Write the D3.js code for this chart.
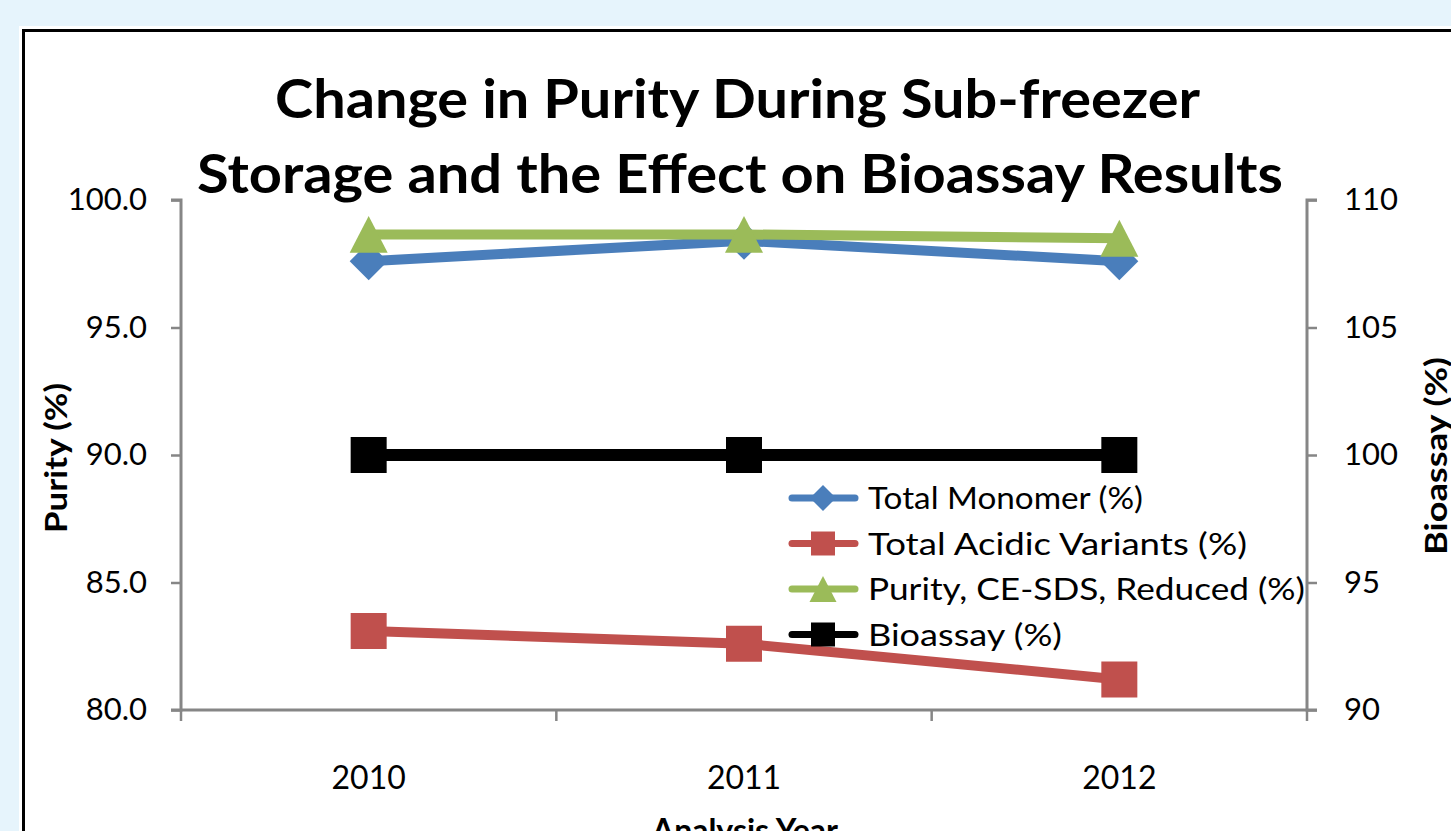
<!DOCTYPE html>
<html><head><meta charset="utf-8">
<script src="https://cdn.jsdelivr.net/npm/d3@7"></script>
<style>body{margin:0;background:#e6f4fc;overflow:hidden}svg{display:block}</style>
</head><body>
<svg id="c" width="1451" height="831"></svg>
<script>
const years = ["2010", "2011", "2012"];
const totalMonomer = [97.6, 98.4, 97.6];
const acidicVariants = [83.1, 82.6, 81.2];
const purityCESDS = [98.65, 98.65, 98.5];
const bioassay = [100, 100, 100];
const leftTicks = [80, 85, 90, 95, 100];
const rightTicks = [90, 95, 100, 105, 110];
const seriesNames = ["Total Monomer (%)", "Total Acidic Variants (%)", "Purity, CE-SDS, Reduced (%)", "Bioassay (%)"];
const titleLines = ["Change in Purity During Sub-freezer", "Storage and the Effect on Bioassay Results"];

const FONT = "Lato, 'Open Sans', sans-serif";
const svg = d3.select("#c");
svg.append("rect").attr("x",0).attr("y",0).attr("width",1451).attr("height",831).attr("fill","#e6f4fc");
svg.append("rect").attr("x",19).attr("y",26).attr("width",1500).attr("height",900).attr("fill","#fff");
svg.append("rect").attr("x",23.5).attr("y",30.5).attr("width",1500).attr("height",900)
  .attr("fill","#fff").attr("stroke","#000").attr("stroke-width",3);

const L = 181, R = 1307, T = 200, B = 710;
const x = d3.scaleBand().domain(years).range([L, R]);
const yL = d3.scaleLinear().domain([80, 100]).range([B, T]);
const yR = d3.scaleLinear().domain([90, 110]).range([B, T]);
const cx = d => x(d) + x.bandwidth()/2;

// custom symbols (bbox-centred)
const diamond = {draw(ctx, size){ const r = Math.sqrt(size)/2; ctx.moveTo(0,-r); ctx.lineTo(r,0); ctx.lineTo(0,r); ctx.lineTo(-r,0); ctx.closePath(); }};
const triangle = {draw(ctx, size){ const w = Math.sqrt(size), h = w*0.97; ctx.moveTo(0,-h/2); ctx.lineTo(w/2,h/2); ctx.lineTo(-w/2,h/2); ctx.closePath(); }};
const square = {draw(ctx, size){ const s = Math.sqrt(size)/2; ctx.rect(-s,-s,2*s,2*s); }};

// axes
const axisColor = "#868686";
const gL = svg.append("g").attr("transform",`translate(${L},0)`)
  .call(d3.axisLeft(yL).tickValues(leftTicks).tickFormat(d3.format(".1f")).tickSize(10).tickPadding(24));
const gR = svg.append("g").attr("transform",`translate(${R},0)`)
  .call(d3.axisRight(yR).tickValues(rightTicks).tickFormat(d3.format("d")).tickSize(10).tickPadding(27));
const gX = svg.append("g").attr("transform",`translate(0,${B})`)
  .call(d3.axisBottom(x).tickSize(0).tickPadding(56));
const bounds = years.map(d => x(d)).concat([R]);
svg.append("g").selectAll("line").data(bounds).join("line")
  .attr("x1",d=>d).attr("x2",d=>d).attr("y1",B).attr("y2",B+11)
  .attr("stroke",axisColor).attr("stroke-width",2.5);
[gL,gR,gX].forEach(g=>{
  g.selectAll(".domain").attr("stroke",axisColor).attr("stroke-width",3);
  g.selectAll(".tick line").attr("stroke",axisColor).attr("stroke-width",2.5);
  g.selectAll("text").attr("font-family",FONT).attr("font-size",31).attr("fill","#000");
});
gX.selectAll("text").attr("font-size",32);
gL.select(".domain").attr("d",`M-10,${T}H0V${B}H-10`);
gR.select(".domain").attr("d",`M10,${T}H0V${B}H10`);
gX.select(".domain").attr("d",`M${L},0H${R}`);

// series
const series = [
  {name: seriesNames[0], vals: totalMonomer, color:"#4a7ebb", sym: diamond, size: 38*38, lsize: 26*26, axis: yL},
  {name: seriesNames[1], vals: acidicVariants, color:"#c0504d", sym: square, size: 36*36, lsize: 24*24, axis: yL},
  {name: seriesNames[2], vals: purityCESDS, color:"#9bbb59", sym: triangle, size: 38*38, lsize: 27*27, axis: yL},
  {name: seriesNames[3], vals: bioassay, color:"#000000", sym: square, size: 36*36, lsize: 24*24, axis: yR}
];
const lineGen = d3.line();
const order = [1,3,0,2];
order.forEach(i=>{
  const s = series[i];
  const pts = years.map((yr,j)=>[cx(yr), s.axis(s.vals[j])]);
  svg.append("path").attr("d", lineGen(pts)).attr("fill","none")
    .attr("stroke", s.color).attr("stroke-width", i===3?12:10).attr("stroke-linejoin","round");
  svg.append("g").selectAll("path").data(pts).join("path")
    .attr("transform", p=>`translate(${p[0]},${p[1]})`)
    .attr("d", d3.symbol().type(s.sym).size(s.size)).attr("fill", s.color);
});

// legend
const legend = svg.append("g");
const legY0 = 498, legDy = 45.5;
const legWidths = [275, 379, 437, 194];
series.forEach((s,i)=>{
  const y = legY0 + i*legDy;
  legend.append("line").attr("x1",792).attr("x2",855).attr("y1",y).attr("y2",y)
    .attr("stroke",s.color).attr("stroke-width",7).attr("stroke-linecap","round");
  legend.append("path").attr("transform",`translate(823,${y})`)
    .attr("d", d3.symbol().type(s.sym).size(s.lsize)).attr("fill",s.color);
  legend.append("text").attr("x",868).attr("y",y).attr("dy","0.36em")
    .attr("font-family",FONT).attr("font-size",31).attr("fill","#000")
    .attr("textLength",legWidths[i]).attr("lengthAdjust","spacingAndGlyphs").text(s.name);
});

// title
const titleX = [275, 197], titleW = [925, 1086];
svg.append("g").selectAll("text").data(titleLines).join("text")
  .attr("x",(d,i)=>titleX[i]).attr("y",(d,i)=>118+i*75)
  .attr("textLength",(d,i)=>titleW[i]).attr("lengthAdjust","spacingAndGlyphs")
  .attr("font-family",FONT).attr("font-weight","bold").attr("font-size",53).attr("fill","#000").text(d=>d);

// axis titles
svg.append("text").attr("transform","translate(67,458) rotate(-90)").attr("text-anchor","middle")
  .attr("font-family",FONT).attr("font-weight","bold").attr("font-size",30)
  .attr("textLength",150).attr("lengthAdjust","spacingAndGlyphs").text("Purity (%)");
svg.append("text").attr("transform","translate(1447,456) rotate(-90)").attr("text-anchor","middle")
  .attr("font-family",FONT).attr("font-weight","bold").attr("font-size",30)
  .attr("textLength",198).attr("lengthAdjust","spacingAndGlyphs").text("Bioassay (%)");
svg.append("text").attr("x",745).attr("y",842).attr("text-anchor","middle")
  .attr("font-family",FONT).attr("font-weight","bold").attr("font-size",32).text("Analysis Year");
</script>
</body></html>
